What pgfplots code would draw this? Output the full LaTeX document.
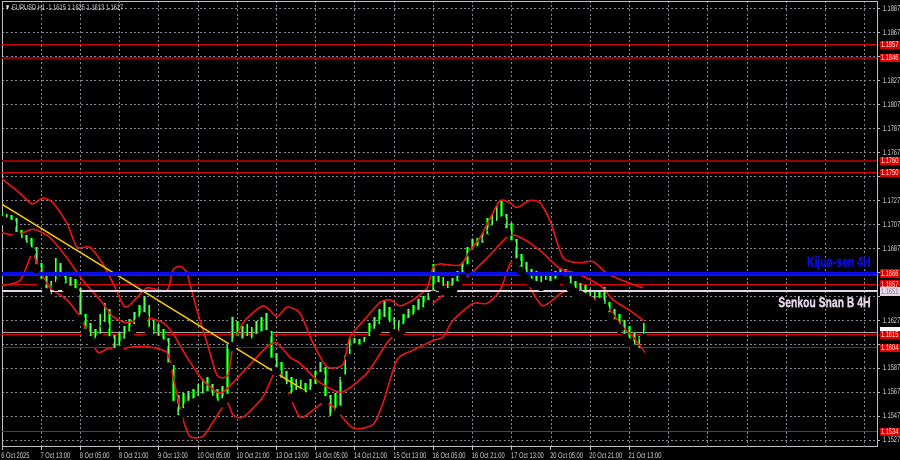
\documentclass[border=0pt]{standalone}
\usepackage{pgfplots}
\pgfplotsset{compat=1.18}
\usepackage{pgfplotstable}
\usepackage{fontspec}
\setmainfont{Liberation Sans}
\newfontfamily\tkfont[FakeStretch=0.7]{Liberation Sans}
\newfontfamily\lblfont[FakeStretch=0.72, FakeBold=1.5]{Liberation Sans Bold}
\newcommand\tk{\tkfont\fontsize{4.1}{4.5}\selectfont}

\definecolor{lvred}{RGB}{225,0,0}
\definecolor{darkred}{RGB}{150,0,0}
\definecolor{kijun}{RGB}{10,10,235}
\definecolor{senkou}{RGB}{228,212,232}
\definecolor{gridc}{RGB}{135,135,145}
\definecolor{candle}{RGB}{0,185,0}
\definecolor{candlehi}{RGB}{90,255,90}
\definecolor{trend}{RGB}{240,200,0}
\definecolor{band}{RGB}{235,20,20}
\definecolor{framec}{RGB}{190,190,190}
\definecolor{txt}{RGB}{225,225,225}

\newcommand\lvl[3]{{\fboxsep=0.6pt\colorbox{#1}{\textcolor{#2}{#3}}}}

% hourly bars, every second bar: low / high
\pgfplotstableread{
bar lo hi
0 1.1710 1.1718
2 1.1709 1.1716
4 1.1707 1.1715
6 1.1697 1.1712
8 1.1692 1.1702
10 1.1688 1.1698
12 1.1684 1.1696
14 1.1670 1.1688
16 1.1658 1.1675
18 1.1650 1.1664
20 1.1645 1.1660
22 1.1655 1.1679
24 1.1660 1.1675
26 1.1654 1.1666
28 1.1652 1.1663
30 1.1650 1.1661
32 1.1628 1.1654
34 1.1616 1.1632
36 1.1610 1.1625
38 1.1608 1.1620
40 1.1612 1.1632
42 1.1622 1.1641
44 1.1610 1.1636
46 1.1600 1.1615
48 1.1602 1.1616
50 1.1608 1.1622
52 1.1614 1.1628
54 1.1620 1.1634
56 1.1626 1.1640
58 1.1630 1.1647
60 1.1618 1.1640
62 1.1612 1.1628
64 1.1610 1.1624
66 1.1607 1.1620
68 1.1588 1.1612
70 1.1556 1.1590
72 1.1544 1.1565
74 1.1550 1.1566
76 1.1556 1.1568
78 1.1558 1.1570
80 1.1560 1.1574
82 1.1562 1.1578
84 1.1564 1.1580
86 1.1560 1.1574
88 1.1556 1.1570
90 1.1558 1.1572
92 1.1562 1.1606
94 1.1605 1.1630
96 1.1610 1.1626
98 1.1608 1.1622
100 1.1610 1.1624
102 1.1608 1.1621
104 1.1612 1.1626
106 1.1614 1.1630
108 1.1615 1.1633
110 1.1592 1.1618
112 1.1584 1.1600
114 1.1575 1.1592
116 1.1570 1.1585
118 1.1562 1.1580
120 1.1565 1.1578
122 1.1566 1.1577
124 1.1563 1.1575
126 1.1565 1.1578
128 1.1570 1.1585
130 1.1580 1.1592
132 1.1560 1.1588
134 1.1543 1.1565
136 1.1548 1.1566
138 1.1552 1.1580
140 1.1578 1.1598
142 1.1595 1.1612
144 1.1604 1.1612
146 1.1603 1.1611
148 1.1605 1.1613
150 1.1610 1.1625
152 1.1616 1.1630
154 1.1620 1.1636
156 1.1626 1.1644
158 1.1622 1.1638
160 1.1616 1.1630
162 1.1614 1.1626
164 1.1620 1.1632
166 1.1625 1.1636
168 1.1628 1.1640
170 1.1632 1.1645
172 1.1634 1.1647
174 1.1640 1.1650
176 1.1648 1.1674
178 1.1655 1.1667
180 1.1652 1.1663
182 1.1650 1.1660
184 1.1652 1.1662
186 1.1656 1.1668
188 1.1662 1.1676
190 1.1670 1.1688
192 1.1682 1.1695
194 1.1685 1.1696
196 1.1688 1.1700
198 1.1695 1.1712
200 1.1702 1.1716
202 1.1706 1.1722
204 1.1710 1.1727
206 1.1700 1.1716
208 1.1690 1.1708
210 1.1675 1.1695
212 1.1668 1.1682
214 1.1662 1.1676
216 1.1658 1.1670
218 1.1656 1.1668
220 1.1655 1.1666
222 1.1657 1.1667
224 1.1656 1.1666
226 1.1658 1.1668
228 1.1661 1.1671
230 1.1660 1.1670
232 1.1654 1.1665
234 1.1650 1.1660
236 1.1648 1.1658
238 1.1646 1.1656
240 1.1643 1.1653
242 1.1640 1.1652
244 1.1642 1.1651
246 1.1637 1.1655
248 1.1630 1.1642
250 1.1624 1.1636
252 1.1620 1.1632
254 1.1612 1.1627
256 1.1608 1.1622
258 1.1603 1.1617
260 1.1600 1.1614
262 1.1612 1.1625
}\candles

\pgfplotstableread{
bar p
0 1.1745
7.3 1.1733
12.2 1.1724
16.7 1.1729
20.8 1.1725
26.5 1.1708
30.6 1.1688
35.9 1.1688
41.2 1.1674
45.3 1.1658
50.2 1.1638
55.1 1.1646
59.2 1.1654
67.3 1.1652
69.8 1.1669
72.7 1.1672
75.5 1.1666
79.6 1.1635
83.7 1.1608
87.8 1.1581
92.2 1.1581
94.3 1.1605
98.4 1.1625
106.5 1.1639
112.2 1.1630
116.3 1.1638
121.6 1.1633
126.9 1.1608
132.7 1.1588
139.2 1.1590
142.0 1.1613
149.0 1.1630
154.3 1.1642
158.4 1.1644
162.4 1.1639
167.8 1.1644
173.5 1.1654
175.9 1.1671
178.8 1.1674
186.9 1.1673
191.0 1.1685
195.1 1.1696
199.2 1.1712
203.3 1.1727
207.3 1.1725
210.2 1.1721
215.5 1.1727
219.6 1.1725
223.7 1.1710
229.0 1.1679
235.9 1.1675
241.2 1.1676
246.9 1.1666
253.5 1.1660
261.6 1.1654
}\bandup

\pgfplotstableread{
bar p
0 1.1700
6.1 1.1698
12.7 1.1703
19.6 1.1696
26.5 1.1679
33.1 1.1660
40.0 1.1644
45.3 1.1630
51.0 1.1625
59.2 1.1629
65.7 1.1625
69.8 1.1616
75.5 1.1596
82.0 1.1577
89.0 1.1566
94.3 1.1575
101.2 1.1590
108.2 1.1605
112.2 1.1608
117.6 1.1596
121.6 1.1591
129.8 1.1575
138.8 1.1567
149.0 1.1583
157.1 1.1608
162.4 1.1619
169.4 1.1630
178.8 1.1646
189.8 1.1663
198.0 1.1679
207.3 1.1698
214.3 1.1693
220.8 1.1683
227.8 1.1670
234.7 1.1666
244.1 1.1656
249.4 1.1644
256.3 1.1635
261.6 1.1627
}\bandmid

\pgfplotstableread{
bar p
0 1.1656
7.3 1.1660
11.4 1.1679
12.7 1.1683
15.5 1.1668
19.6 1.1654
26.5 1.1644
31.8 1.1630
35.9 1.1613
39.2 1.1600
44.1 1.1604
46.9 1.1598
51.0 1.1604
59.2 1.1605
67.3 1.1600
69.8 1.1580
73.5 1.1547
76.7 1.1530
82.0 1.1530
86.1 1.1542
90.2 1.1555
92.2 1.1558
94.3 1.1548
98.4 1.1546
106.5 1.1563
112.2 1.1586
116.3 1.1569
121.6 1.1546
126.9 1.1552
131.0 1.1558
135.1 1.1555
143.3 1.1537
151.4 1.1540
155.5 1.1558
161.2 1.1594
167.8 1.1602
175.9 1.1610
180.0 1.1613
184.1 1.1627
192.2 1.1641
198.0 1.1641
203.3 1.1652
207.3 1.1674
210.2 1.1675
215.5 1.1654
220.8 1.1639
227.8 1.1649
233.1 1.1654
238.8 1.1648
244.1 1.1642
248.2 1.1635
253.5 1.1621
257.6 1.1613
262.4 1.1600
}\bandlo

\begin{document}
\begin{tikzpicture}
\fill[black] (0,0) rectangle (450pt,230pt);
\begin{axis}[
  at={(1pt,6.5pt)}, anchor=south west,
  scale only axis, width=437.5pt, height=222.5pt,
  xmin=0, xmax=357.1, ymin=1.15212, ymax=1.18926,
  axis line style={draw=framec, line width=0.5pt},
  tick align=outside, major tick length=1.5pt,
  tick style={draw=framec, line width=0.4pt},
  xtick pos=bottom, ytick pos=right,
  xtick={0,16,...,256},
  xticklabels={6 Oct 2025, 7 Oct 13:00, 8 Oct 05:00, 8 Oct 21:00, 9 Oct 13:00,
    10 Oct 05:00, 10 Oct 21:00, 13 Oct 13:00, 14 Oct 05:00, 14 Oct 21:00,
    15 Oct 13:00, 16 Oct 05:00, 16 Oct 21:00, 17 Oct 13:00, 20 Oct 05:00,
    20 Oct 21:00, 21 Oct 13:00},
  extra x ticks={272,288,...,352},
  extra x tick labels={},
  extra x tick style={major tick length=0pt},
  ytick={1.1527,1.1547,1.1567,1.1587,1.1607,1.1627,1.1647,1.1667,1.1687,1.1707,
    1.1727,1.1747,1.1767,1.1787,1.1807,1.1827,1.1847,1.1867,1.1887},
  yticklabels={1.1527,1.1547,1.1567,1.1587,{},1.1627,{},{},1.1687,1.1707,
    1.1727,{},1.1767,1.1787,1.1807,1.1827,{},1.1867,1.1887},
  ticklabel style={font=\tk, text=txt},
  xticklabel style={anchor=north west, inner sep=0pt, yshift=-1pt, xshift=-0.5pt},
  yticklabel style={anchor=west, inner sep=0pt, xshift=1.2pt},
  extra y ticks={1.1857,1.1846,1.1760,1.1750,1.1666,1.1657,1.1651,1.1618,1.1615,1.1604,1.1534},
  extra y tick labels={\lvl{lvred}{white}{1.1857},\lvl{lvred}{white}{1.1846},
    \lvl{lvred}{white}{1.1760},\lvl{lvred}{white}{1.1750},\lvl{lvred}{white}{1.1666},
    \lvl{lvred}{white}{1.1657},\lvl{senkou}{gray}{1.1651},\lvl{white}{white}{\phantom{1.1617}},
    \lvl{lvred}{white}{1.1615},\lvl{lvred}{white}{1.1604},\lvl{lvred}{white}{1.1534}},
  extra y tick style={grid=none, major tick length=0pt},
  grid=major,
  major grid style={draw=gridc, line width=0.35pt, dash pattern=on 1pt off 1.2pt},
]
% level lines
\addplot[lvred, line width=0.5pt] coordinates {(0,1.1857) (360,1.1857)};
\addplot[darkred, line width=1pt] coordinates {(0,1.1846) (360,1.1846)};
\addplot[darkred, line width=1pt] coordinates {(0,1.1760) (360,1.1760)};
\addplot[lvred, line width=0.5pt] coordinates {(0,1.1750) (360,1.1750)};
\addplot[lvred, line width=0.5pt] coordinates {(0,1.1657) (360,1.1657)};
\addplot[lvred, line width=0.5pt] coordinates {(0,1.1615) (360,1.1615)};
\addplot[gray!70!white, line width=0.5pt] coordinates {(0,1.1617) (360,1.1617)};
\addplot[lvred, line width=0.5pt] coordinates {(0,1.1604) (360,1.1604)};
\addplot[lvred, line width=0.5pt] coordinates {(0,1.1534) (360,1.1534)};
% candles
\addplot[only marks, mark=none, error bars/.cd, y dir=plus, y explicit, error mark=none,
  error bar style={draw=candle, line width=1.4pt}]
  table[x=bar, y=lo, y error expr=\thisrow{hi}-\thisrow{lo}] {\candles};
\addplot[only marks, mark=none, error bars/.cd, y dir=plus, y explicit, error mark=none,
  error bar style={draw=candlehi, line width=0.5pt}]
  table[x=bar, y=lo, y error expr=\thisrow{hi}-\thisrow{lo}] {\candles};
% bands
\addplot[band, line width=0.75pt, smooth, tension=0.4] table[x=bar, y=p] {\bandup};
\addplot[band, line width=0.75pt, smooth, tension=0.4] table[x=bar, y=p] {\bandmid};
\addplot[band, line width=0.75pt, smooth, tension=0.4] table[x=bar, y=p] {\bandlo};
% trend line
\addplot[trend, line width=0.7pt] coordinates {(-0.8,1.17248) (124.5,1.15671)};
% ichimoku levels
\addplot[darkred, line width=0.8pt] coordinates {(0,1.16645) (360,1.16645)};
\addplot[kijun, line width=1.3pt] coordinates {(0,1.1666) (360,1.1666)};
\addplot[senkou, line width=1pt] coordinates {(0,1.1651) (360,1.1651)};
\node[anchor=east, inner sep=0pt, text=kijun, font=\lblfont\fontsize{7.2}{8}\selectfont]
  at (axis cs:354.6,1.16748) {Kijun-sen 4H};
\node[anchor=east, inner sep=0pt, text=senkou, font=\lblfont\fontsize{7.2}{8}\selectfont]
  at (axis cs:354.6,1.16422) {Senkou Snan B 4H};
\node[anchor=north west, inner sep=0pt, text=txt, font=\tk]
  at (rel axis cs:0,1) [xshift=1.2pt, yshift=-1.2pt] {▼ EURUSD,H1\ \ 1.1615 1.1625 1.1613 1.1617};
\end{axis}
\pgfresetboundingbox
\useasboundingbox (0,0) rectangle (450pt,230pt);
\end{tikzpicture}
\end{document}
